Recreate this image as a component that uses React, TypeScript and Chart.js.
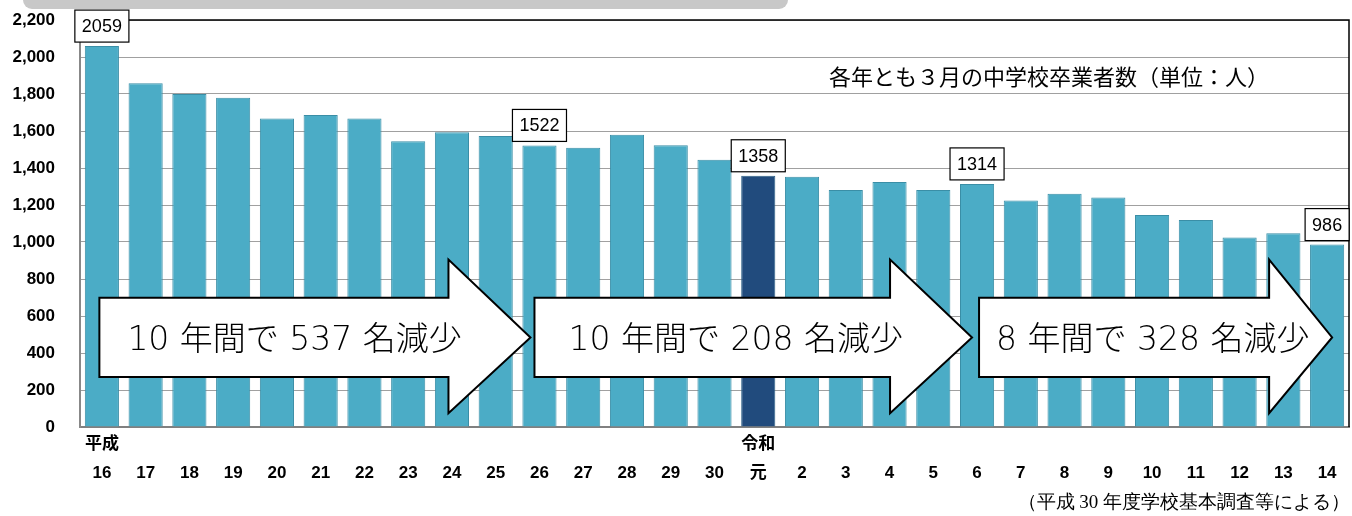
import React, { useEffect, useRef } from "react";
import { Chart, registerables } from "chart.js";

Chart.register(...registerables);

// ---- data ----
const eraLabels = ["平成", "", "", "", "", "", "", "", "", "", "", "", "", "", "", "令和", "", "", "", "", "", "", "", "", "", "", "", "", ""];
const yearLabels = ["16", "17", "18", "19", "20", "21", "22", "23", "24", "25", "26", "27", "28", "29", "30", "元", "2", "3", "4", "5", "6", "7", "8", "9", "10", "11", "12", "13", "14"];
const graduates = [2059, 1858, 1800, 1780, 1667, 1686, 1667, 1544, 1593, 1573, 1522, 1510, 1580, 1523, 1445, 1358, 1353, 1281, 1324, 1281, 1314, 1225, 1261, 1240, 1146, 1119, 1025, 1047, 986];
const highlightIndex = 15;
const calloutIndices = [0, 10, 15, 20, 28];
const arrowTexts = ["10 年間で 537 名減少", "10 年間で 208 名減少", "8 年間で 328 名減少"];
const arrowFrom = [0, 10, 20];
const arrowTo = [10, 20, 28];
const noteText = "各年とも３月の中学校卒業者数（単位：人）";
const sourceText = "（平成 30 年度学校基本調査等による）";
const yMax = 2200;
const yStep = 200;

// ---- layout / style config ----
const ARROW_GEOM = [
  { leftOff: -2.5, tipOff: -9, textOff: 28, headLen: 82 },
  { leftOff: -5, tipOff: -5, textOff: 34, headLen: 82 },
  { leftOff: 2, tipOff: 5, textOff: 17, headLen: 63 },
];
const JP = "'Noto Sans CJK JP', 'Noto Sans', sans-serif";

const overlayPlugin = {
  id: "overlay",
  beforeDraw(chart: any) {
    const ctx = chart.ctx;
    ctx.save();
    ctx.fillStyle = "#c8c8c8";
    ctx.beginPath();
    (ctx as any).roundRect(23, -12, 765, 21, 9);
    ctx.fill();
    ctx.restore();
  },
  afterDatasetsDraw(chart: any) {
    const { ctx, chartArea } = chart;
    const x = chart.scales.x;
    const y = chart.scales.y;
    ctx.save();

    // frame top & right
    ctx.strokeStyle = "#000";
    ctx.lineWidth = 1.5;
    ctx.beginPath();
    ctx.moveTo(chartArea.left, chartArea.top);
    ctx.lineTo(chartArea.right, chartArea.top);
    ctx.lineTo(chartArea.right, chartArea.bottom);
    ctx.stroke();

    // arrows
    const bodyTop = y.getPixelForValue(698);
    const bodyBottom = y.getPixelForValue(270);
    const headTop = y.getPixelForValue(905);
    const headBottom = y.getPixelForValue(75);
    const midY = (bodyTop + bodyBottom) / 2;
    arrowTexts.forEach((t, i) => {
      const g = ARROW_GEOM[i];
      const left = x.getPixelForValue(arrowFrom[i]) + g.leftOff;
      const tip = x.getPixelForValue(arrowTo[i]) + g.tipOff;
      const headStart = tip - g.headLen;
      ctx.beginPath();
      ctx.moveTo(left, bodyTop);
      ctx.lineTo(headStart, bodyTop);
      ctx.lineTo(headStart, headTop);
      ctx.lineTo(tip, midY);
      ctx.lineTo(headStart, headBottom);
      ctx.lineTo(headStart, bodyBottom);
      ctx.lineTo(left, bodyBottom);
      ctx.closePath();
      ctx.fillStyle = "#fff";
      ctx.fill();
      ctx.strokeStyle = "#000";
      ctx.lineWidth = 2;
      ctx.lineJoin = "miter";
      ctx.stroke();
      ctx.fillStyle = "#000";
      ctx.font = `200 33px 'DejaVu Sans', ${JP}`;
      ctx.textAlign = "left";
      ctx.textBaseline = "middle";
      ctx.fillText(t, left + g.textOff, midY + 4);
    });

    // callout boxes
    ctx.font = "18px 'Liberation Sans', Arial, sans-serif";
    calloutIndices.forEach((idx) => {
      const v = graduates[idx];
      const label = String(v);
      const cx = x.getPixelForValue(idx);
      const top = y.getPixelForValue(v);
      const w = ctx.measureText(label).width + 14;
      const h = 32;
      const bx = cx - w / 2;
      const by = top - 4 - h;
      ctx.fillStyle = "#fff";
      ctx.fillRect(bx, by, w, h);
      ctx.strokeStyle = "#000";
      ctx.lineWidth = 1.2;
      ctx.strokeRect(bx, by, w, h);
      ctx.fillStyle = "#000";
      ctx.textAlign = "center";
      ctx.textBaseline = "middle";
      ctx.fillText(label, cx, by + h / 2 + 1);
    });

    // note
    ctx.font = `22px ${JP}`;
    ctx.fillStyle = "#000";
    ctx.textAlign = "left";
    ctx.textBaseline = "middle";
    ctx.fillText(noteText, 829, 77);

    // source
    ctx.font = "19px 'Liberation Serif', serif";
    ctx.textAlign = "right";
    ctx.fillText(sourceText, 1350, 503);

    ctx.restore();
  },
};

export default function App() {
  const ref = useRef<HTMLCanvasElement | null>(null);
  useEffect(() => {
    if (!ref.current) return;
    const chart = new Chart(ref.current, {
      type: "bar",
      data: {
        labels: yearLabels.map((yl, i) => [eraLabels[i], yl]),
        datasets: [
          {
            data: graduates,
            backgroundColor: graduates.map((_, i) => (i === highlightIndex ? "#214b7d" : "#4bacc6")),
            borderColor: graduates.map((_, i) => (i === highlightIndex ? "#2c5f86" : "#3a8ea6")),
            borderWidth: 1,
            categoryPercentage: 1,
            barPercentage: 0.78,
          },
        ],
      },
      options: {
        responsive: false,
        animation: false,
        layout: { padding: { top: 20, right: 3, bottom: 0, left: 0 } },
        plugins: { legend: { display: false }, tooltip: { enabled: false } },
        scales: {
          x: {
            grid: { display: false, drawTicks: false },
            border: { color: "#808080", width: 2 },
            ticks: {
              color: "#000",
              padding: 3,
              maxRotation: 0,
              autoSkip: false,
              font: { family: "'Liberation Sans', Arial, 'Noto Sans CJK JP'", size: 17, weight: "bold", lineHeight: "29px" },
            },
            afterFit: (s: any) => {
              s.height = 89;
            },
          },
          y: {
            min: 0,
            max: yMax,
            grid: { color: "#a0a0a0", lineWidth: 1, drawTicks: false },
            border: { color: "#888", width: 2 },
            ticks: {
              stepSize: yStep,
              color: "#000",
              padding: 25,
              font: { family: "'Liberation Sans', Arial, sans-serif", size: 17, weight: "bold" },
              callback: (v: any) => Number(v).toLocaleString("en-US"),
            },
            afterFit: (s: any) => {
              s.width = 80;
              s.paddingTop = 0;
              s.paddingBottom = 0;
            },
          },
        },
      },
      plugins: [overlayPlugin],
    });
    return () => chart.destroy();
  }, []);
  return (
    <div style={{ position: "absolute", left: 0, top: 0, width: 1352, height: 516, background: "#fff" }}>
      <canvas ref={ref} width={1352} height={516} style={{ display: "block" }} />
    </div>
  );
}
